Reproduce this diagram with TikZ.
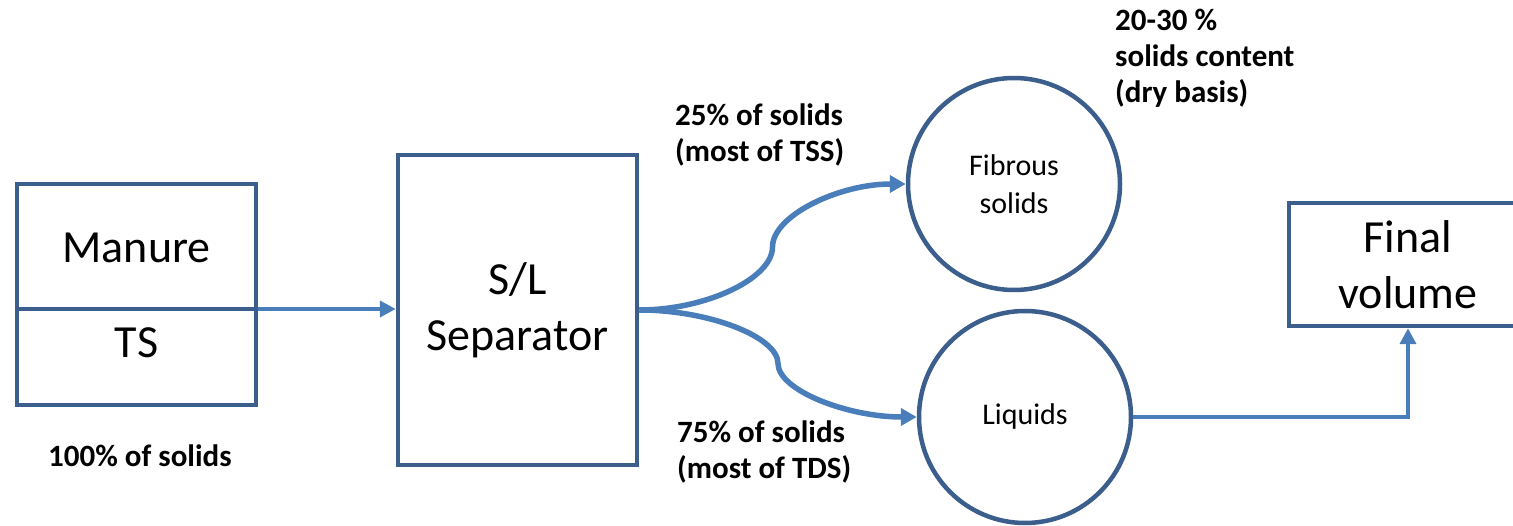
\documentclass[tikz,border=0pt]{standalone}
\usepackage{fontspec}
\setmainfont{Carlito}
\usetikzlibrary{arrows.meta,calc}

\definecolor{outline}{RGB}{59,94,140}
\definecolor{flowblue}{RGB}{74,126,187}

\tikzset{
  unit/.style={draw=outline, line width=4.5pt, fill=white, inner sep=0pt},
  boxunit/.style={unit, rectangle},
  roundunit/.style={unit, circle},
  bigtext/.style={font=\fontsize{46}{56}\selectfont, align=center},
  smalltext/.style={font=\fontsize{30}{38}\selectfont, align=center},
  note/.style={font=\bfseries\fontsize{31}{36}\selectfont, align=left, inner sep=0pt},
  flow/.style={draw=flowblue, line width=4.5pt, -{Triangle[length=16pt,width=16pt]}},
  curveflow/.style={flow, line width=5.5pt, -{Triangle[length=16pt,width=17pt]}}
}

\begin{document}
\begin{tikzpicture}[x=1pt, y=-1pt]
  \useasboundingbox (0,0) rectangle (1513,526);
  \clip (0,0) rectangle (1513,526);

  % input box, split into two compartments
  \node[boxunit, minimum width=239pt, minimum height=221pt] (manure) at (136.5,294.5) {};
  \coordinate (split) at (0,309);
  \draw[outline, line width=4.5pt] (manure.west |- split) -- (manure.east |- split);
  \node[bigtext, anchor=base] (manurelbl) at (136.5,263) {Manure};
  \node[bigtext, anchor=base] (tslbl) at (136.5,358) {TS};

  % separator
  \node[boxunit, bigtext, minimum width=239pt, minimum height=310pt] (sep) at (517.5,310) {S/L\\Separator};

  % products
  \node[roundunit, smalltext, minimum size=212pt] (fib) at (1014,184) {Fibrous\\solids};
  \node[roundunit, smalltext, minimum size=212pt] (liq) at (1025,417) {Liquids};

  % final volume box (runs past the right edge)
  \node[boxunit, bigtext, minimum width=238pt, minimum height=123pt] (final) at (1408,264.5) {Final\\volume};

  % flows
  \draw[flow] (manure.east |- split) -- (sep.west |- split);
  \draw[curveflow] (sep.east)
      .. controls +(66.75,0) and +(0,31.5) .. ($(sep.east)!0.5!(fib.west)$)
      .. controls +(0,-31.5) and +(-66.75,0) .. (fib.west);
  \draw[curveflow] (sep.east)
      .. controls +(69.5,0) and +(0,-26.75) .. ($(sep.east)!0.5!(liq.west)$)
      .. controls +(0,26.75) and +(-69.5,0) .. (liq.west);
  \draw[flow] (liq.east) -| (final.south);

  % annotations
  \node[note, anchor=base west] (n100) at (48,466) {100\% of solids};
  \node[note, anchor=west] (n25) at (675,135) {25\% of solids\\(most of TSS)};
  \node[note, anchor=west] (n75) at (677,452) {75\% of solids\\(most of TDS)};
  \node[note, anchor=west] (ndry) at (1115,58) {20-30 \%\\solids content\\(dry basis)};
\end{tikzpicture}
\end{document}
